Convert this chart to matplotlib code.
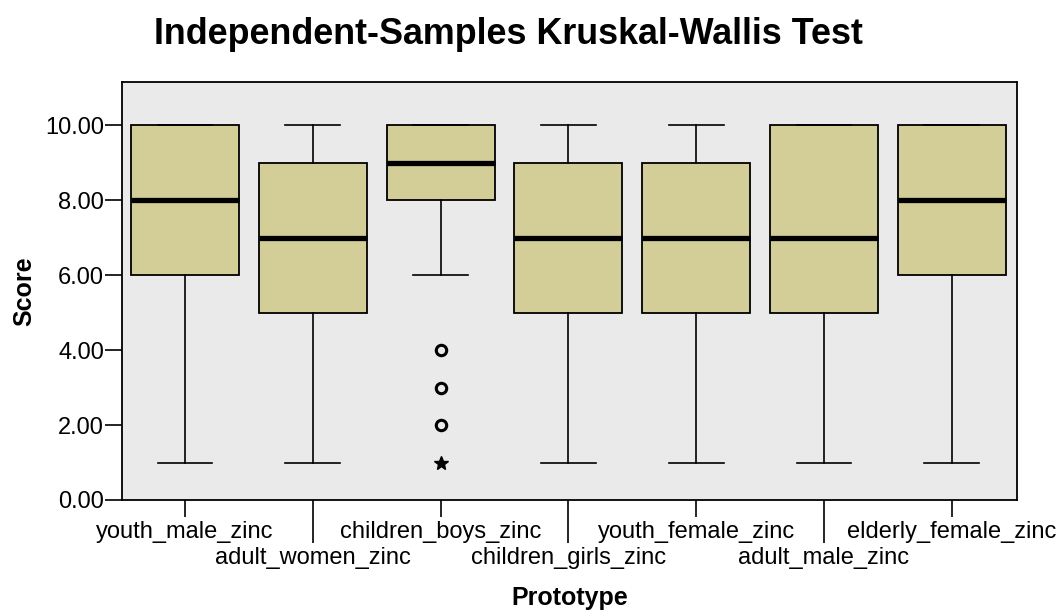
import numpy as np
import matplotlib.pyplot as plt

plt.rcParams['font.family'] = ['Liberation Sans', 'DejaVu Sans']

# groups and five-number summaries
groups = ["youth_male_zinc", "adult_women_zinc", "children_boys_zinc",
          "children_girls_zinc", "youth_female_zinc", "adult_male_zinc",
          "elderly_female_zinc"]
whislo = [1, 1, 6, 1, 1, 1, 1]
q1 = [6, 5, 8, 5, 5, 5, 6]
med = [8, 7, 9, 7, 7, 7, 8]
q3 = [10, 9, 10, 9, 9, 10, 10]
whishi = [10, 10, 10, 10, 10, 10, 10]
# children_boys_zinc outliers (circles) and extreme value (star)
outliers = [[], [], [4, 3, 2], [], [], [], []]
extremes = [[], [], [1], [], [], [], []]

box_color = "#d3ce98"
bg_color = "#eaeaea"

fig = plt.figure(figsize=(10.64, 6.12), dpi=100)
ax = fig.add_axes([122/1064, 112/612, (1017-122)/1064, (500-82)/612])
ax.set_facecolor(bg_color)

stats = []
for i in range(len(groups)):
    stats.append(dict(whislo=whislo[i], q1=q1[i], med=med[i], q3=q3[i],
                      whishi=whishi[i], fliers=outliers[i], label=groups[i]))

pos = np.arange(len(groups))
ax.bxp(stats, positions=pos, widths=0.845, patch_artist=True,
       boxprops=dict(facecolor=box_color, edgecolor="black", linewidth=1.3),
       medianprops=dict(color="black", linewidth=3.8, solid_capstyle="butt"),
       whiskerprops=dict(color="black", linewidth=1.2),
       capprops=dict(color="black", linewidth=1.2),
       capwidths=0.43,
       flierprops=dict(marker="o", markersize=7.5, markerfacecolor="none",
                       markeredgecolor="black", markeredgewidth=2.2))

for i in range(len(groups)):
    if extremes[i]:
        ax.plot([pos[i]] * len(extremes[i]), extremes[i], linestyle="none",
                marker="*", markersize=10, color="black")

ax.set_xlim(-0.493, 6.51)
ax.set_ylim(0, 11.15)
ax.set_yticks(np.arange(0, 11, 2))
ax.set_yticklabels(["%.2f" % v for v in np.arange(0, 11, 2)], fontsize=17)
ax.tick_params(axis="y", length=12, width=1.2, pad=1, color="black")

# staggered category labels: even ones on short ticks, odd ones on long ticks
ax.set_xticks(pos[::2])
ax.set_xticklabels(groups[::2], fontsize=17)
ax.set_xticks(pos[1::2], minor=True)
ax.set_xticklabels(groups[1::2], minor=True, fontsize=17)
ax.tick_params(axis="x", which="major", length=12, width=1.2, pad=3)
ax.tick_params(axis="x", which="minor", length=31, width=1.2, pad=3)

for s in ax.spines.values():
    s.set_linewidth(1.3)

ax.set_ylabel("Score", fontsize=18, fontweight="bold", labelpad=6)
ax.set_xlabel("Prototype", fontsize=18, fontweight="bold", labelpad=12)
fig.text(508/1064, 1 - 35/612, "Independent-Samples Kruskal-Wallis Test",
         ha="center", va="center", fontsize=25.8, fontweight="bold")

fig.savefig("out.png", dpi=100)
